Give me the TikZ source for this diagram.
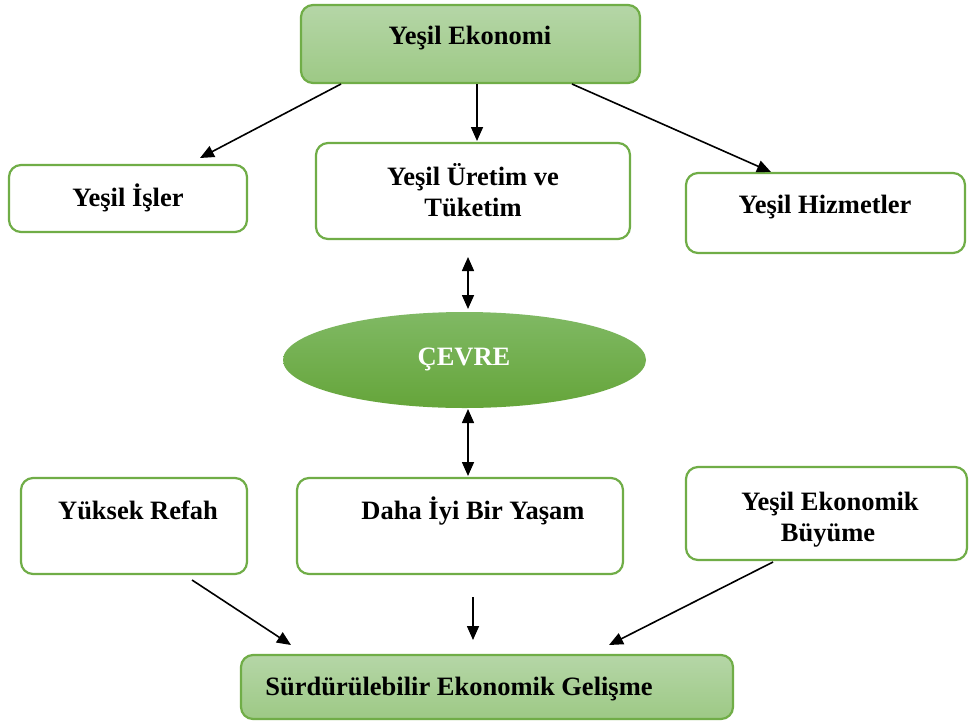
\documentclass[tikz,border=0pt]{standalone}
\usepackage{fontspec}
\setmainfont{Liberation Serif}
\usetikzlibrary{arrows.meta,shapes.geometric}
\definecolor{gborder}{HTML}{70AD47}
\definecolor{gtop}{HTML}{B5D6A7}
\definecolor{gbot}{HTML}{9DC985}
\definecolor{etop}{HTML}{80B964}
\definecolor{ebot}{HTML}{65A53A}
\tikzset{
  box/.style={draw=gborder, line width=2.2pt, rounded corners=12pt, rectangle, fill=white, inner sep=0pt},
  gbox/.style={box, top color=gtop, bottom color=gbot},
  txt/.style={anchor=base, inner sep=0pt, font=\fontsize{26.5}{30}\selectfont\bfseries},
  conn/.style={line width=1.6pt, -{Triangle[length=14pt,width=12pt]}},
  dconn/.style={line width=1.6pt, {Triangle[length=14pt,width=12pt]}-{Triangle[length=14pt,width=12pt]}}
}
\begin{document}
\begin{tikzpicture}[x=1pt,y=-1pt]
\useasboundingbox[fill=white] (0,0) rectangle (969,721);
% boxes
\node[gbox, minimum width=339pt, minimum height=78pt] (top) at (470.5,44) {};
\node[box, minimum width=238pt, minimum height=67pt] (isler) at (128,198.5) {};
\node[box, minimum width=314pt, minimum height=96pt] (uretim) at (473,191) {};
\node[box, minimum width=279pt, minimum height=80pt] (hizmet) at (825.5,213) {};
\node[ellipse, draw=none, top color=etop, bottom color=ebot, minimum width=363pt, minimum height=96pt, inner sep=0pt] (cevre) at (464.5,360) {};
\node[box, minimum width=226pt, minimum height=96pt] (refah) at (134,526) {};
\node[box, minimum width=326pt, minimum height=96pt] (yasam) at (460,526) {};
\node[box, minimum width=281pt, minimum height=93pt] (buyume) at (826.5,513.5) {};
\node[gbox, minimum width=492pt, minimum height=64pt] (surd) at (487,687) {};
% texts
\node[txt] (t1) at (470,44) {Yeşil Ekonomi};
\node[txt] (t2) at (128,206) {Yeşil İşler};
\node[txt] (t3a) at (473,185) {Yeşil Üretim ve};
\node[txt] (t3b) at (473,216) {Tüketim};
\node[txt] (t4) at (825,213) {Yeşil Hizmetler};
\node[txt, text=white] (t5) at (464,365) {ÇEVRE};
\node[txt] (t6) at (138,519) {Yüksek Refah};
\node[txt] (t7) at (473,519) {Daha İyi Bir Yaşam};
\node[txt] (t8a) at (830,510) {Yeşil Ekonomik};
\node[txt] (t8b) at (828,541) {Büyüme};
\node[txt] (t9) at (459,695) {Sürdürülebilir Ekonomik Gelişme};
% connector end points
\coordinate (a1s) at (341,84);  \coordinate (a1e) at (200,158);
\coordinate (a2s) at (477,84);  \coordinate (a2e) at (477,141);
\coordinate (a3s) at (572,84);  \coordinate (a3e) at (771,172);
\coordinate (d1s) at (468,257); \coordinate (d1e) at (468,309);
\coordinate (d2s) at (468,409); \coordinate (d2e) at (468,476);
\coordinate (b1s) at (192,580); \coordinate (b1e) at (291,645);
\coordinate (b2s) at (473,597); \coordinate (b2e) at (473,640);
\coordinate (b3s) at (773,562); \coordinate (b3e) at (609,645);
\draw[conn] (a1s) -- (a1e);
\draw[conn] (a2s) -- (a2e);
\draw[conn] (a3s) -- (a3e);
\draw[dconn] (d1s) -- (d1e);
\draw[dconn] (d2s) -- (d2e);
\draw[conn] (b1s) -- (b1e);
\draw[conn] (b2s) -- (b2e);
\draw[conn] (b3s) -- (b3e);
\end{tikzpicture}
\end{document}
